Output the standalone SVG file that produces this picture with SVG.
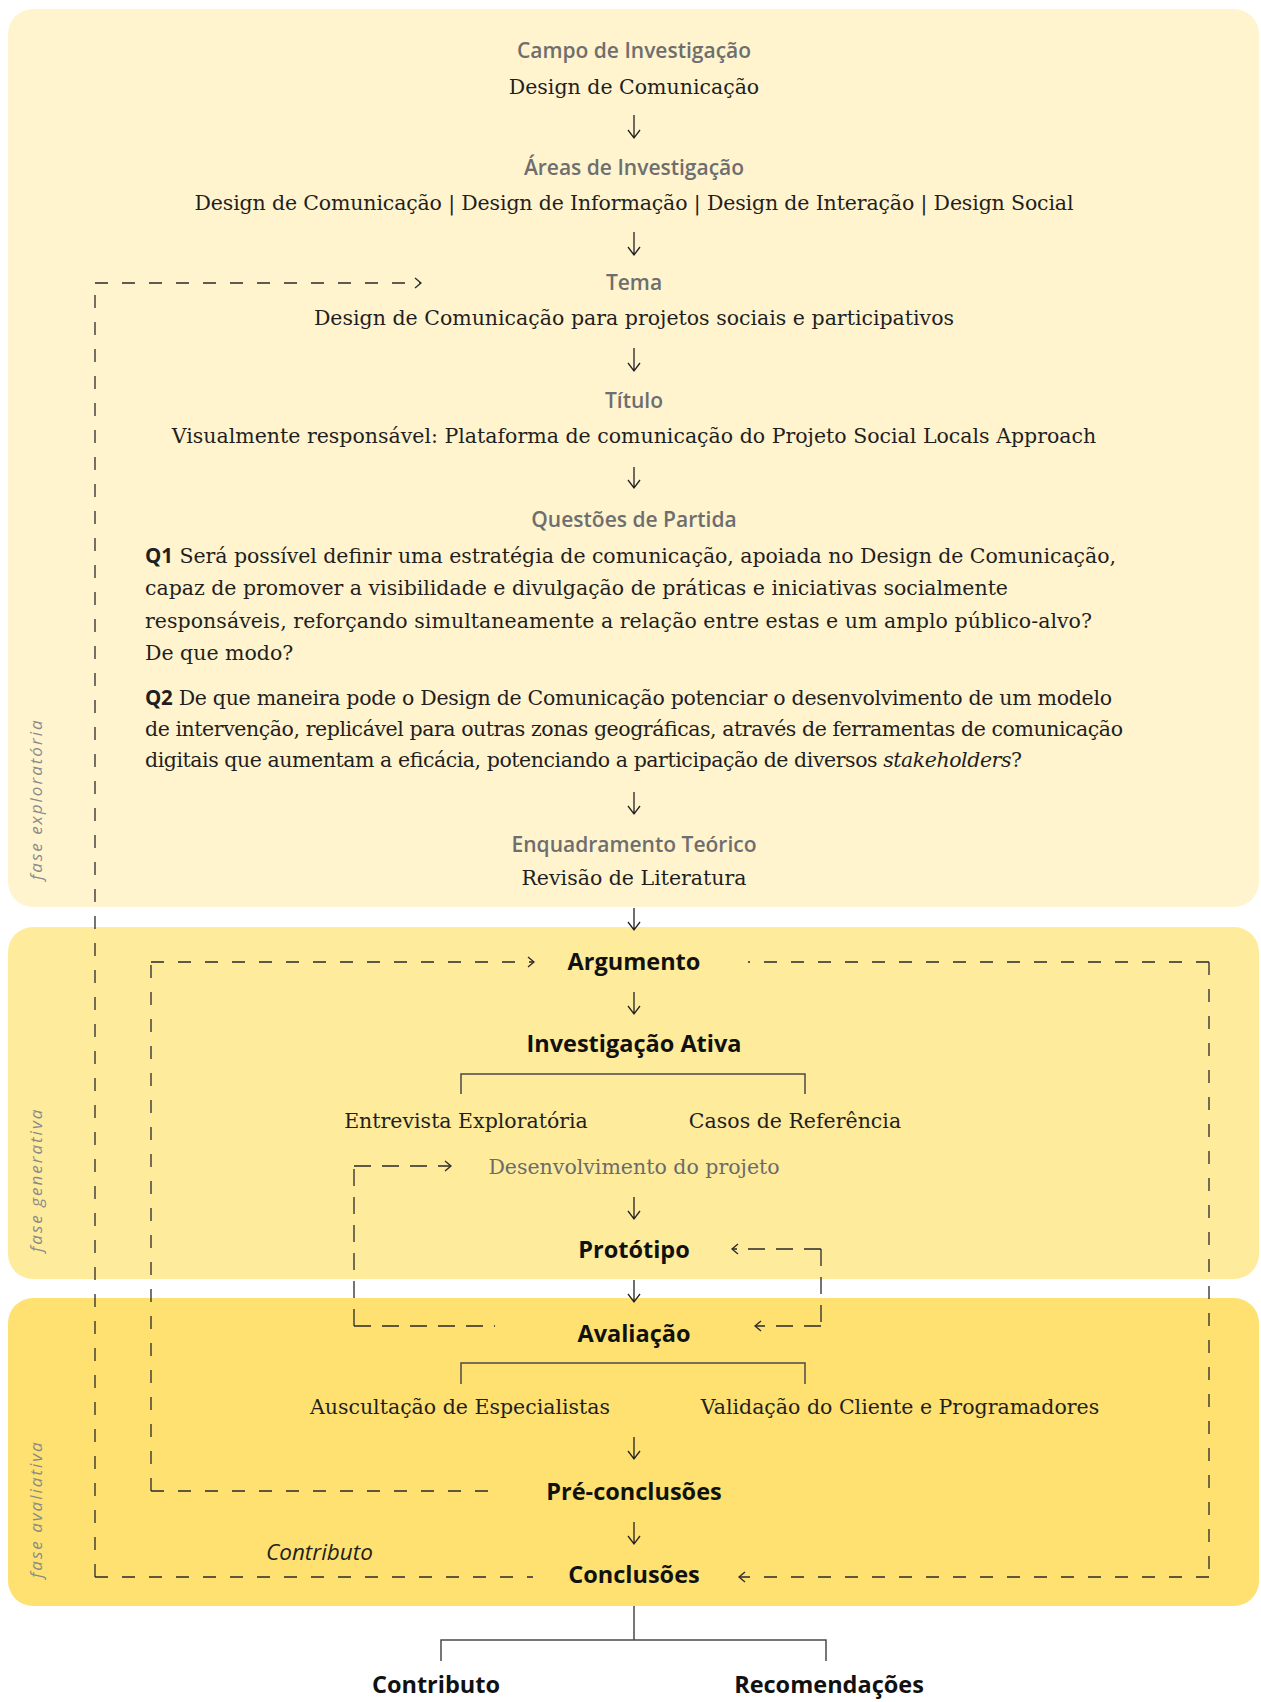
<svg xmlns="http://www.w3.org/2000/svg" width="1261" height="1702" viewBox="0 0 1261 1702">
  <defs>
    <style>
      .serif { font-family: "DejaVu Serif", "Liberation Serif", serif; font-size: 20.5px; fill: #1f1f1f; }
      .label { font-family: "Open Sans", "Noto Sans", sans-serif; font-size: 21px; font-weight: 600; fill: #6e6e6e; text-anchor: middle; }
      .step { font-family: "Open Sans", "Noto Sans", sans-serif; font-size: 23.5px; font-weight: 700; fill: #111; text-anchor: middle; }
      .phase { font-family: "Open Sans", "Noto Sans", sans-serif; font-size: 17px; font-style: italic; font-weight: 400; fill: #8a8a8a; letter-spacing: 2px; }
      .mid { text-anchor: middle; }
      .arrow { fill: none; stroke: #222; stroke-width: 1.3; }
      .dash { fill: none; stroke: #2a2a2a; stroke-width: 1.3; stroke-dasharray: 13 14; }
      .dash2 { fill: none; stroke: #2a2a2a; stroke-width: 1.3; stroke-dasharray: 17 11; }
      .head { fill: none; stroke: #2a2a2a; stroke-width: 1.3; }
      .bracket { fill: none; stroke: #4a4a4a; stroke-width: 1.5; }
      .q { font-family: "Open Sans", "Noto Sans", sans-serif; font-weight: 700; }
    </style>
  </defs>

  <!-- phase panels -->
  <g id="panels">
    <rect id="panel-exploratoria" x="8" y="9" width="1251" height="898" rx="25" fill="#FFF4CE"/>
    <rect id="panel-generativa" x="8" y="927" width="1251" height="352" rx="25" fill="#FEEB9C"/>
    <rect id="panel-avaliativa" x="8" y="1298" width="1251" height="308" rx="25" fill="#FEE170"/>
  </g>

  <!-- phase names, running upward -->
  <g id="phase-labels">
    <text class="phase" transform="translate(42 880) rotate(-90)">fase exploratória</text>
    <text class="phase" transform="translate(42 1252) rotate(-90)">fase generativa</text>
    <text class="phase" transform="translate(42 1578) rotate(-90)">fase avaliativa</text>
  </g>

  <!-- connectors -->
  <g id="connectors">
    <!-- straight downward arrows on the centre axis -->
    <g class="arrow">
      <path d="M634 115V138M628 130L634 138L640 130"/>
      <path d="M634 232V255M628 247L634 255L640 247"/>
      <path d="M634 348V371M628 363L634 371L640 363"/>
      <path d="M634 467V488M628 480L634 488L640 480"/>
      <path d="M634 792V814M628 806L634 814L640 806"/>
      <path d="M634 908V930M628 922L634 930L640 922"/>
      <path d="M634 992V1014M628 1006L634 1014L640 1006"/>
      <path d="M634 1197V1219M628 1211L634 1219L640 1211"/>
      <path d="M634 1280V1302M628 1294L634 1302L640 1294"/>
      <path d="M634 1437V1459M628 1451L634 1459L640 1451"/>
      <path d="M634 1522V1544M628 1536L634 1544L640 1536"/>
    </g>

    <!-- branch brackets -->
    <path class="bracket" d="M461 1094V1074H805V1094"/>
    <path class="bracket" d="M461 1384V1363H805V1384"/>
    <path class="bracket" d="M634 1606V1640M441 1661V1640H826V1661"/>

    <!-- Conclusões back to Tema -->
    <line class="dash" x1="95" y1="1577" x2="533" y2="1577"/>
    <line class="dash" x1="95" y1="1577" x2="95" y2="283"/>
    <line class="dash" x1="95" y1="283" x2="420" y2="283"/>
    <path class="head" d="M415 278L421 283L415 288"/>

    <!-- Pré-conclusões back to Argumento -->
    <line class="dash" x1="151" y1="1491" x2="494" y2="1491"/>
    <line class="dash" x1="151" y1="1491" x2="151" y2="962"/>
    <line class="dash" x1="151" y1="962" x2="533" y2="962"/>
    <path class="head" d="M528 957L534 962L528 967"/>

    <!-- Argumento forward to Conclusões -->
    <line class="dash" x1="1209" y1="962" x2="748" y2="962"/>
    <line class="dash" x1="1209" y1="962" x2="1209" y2="1577"/>
    <line class="dash" x1="1209" y1="1577" x2="740" y2="1577"/>
    <path class="head" d="M745 1572L739 1577L745 1582"/>

    <!-- Avaliação back to Desenvolvimento do projeto -->
    <line class="dash2" x1="354" y1="1326" x2="495" y2="1326"/>
    <line class="dash2" x1="354" y1="1326" x2="354" y2="1166"/>
    <line class="dash2" x1="354" y1="1166" x2="450" y2="1166"/>
    <path class="head" d="M445 1161L451 1166L445 1171"/>

    <!-- Protótipo and Avaliação, both ways -->
    <line class="dash2" x1="821" y1="1249" x2="733" y2="1249"/>
    <line class="dash2" x1="821" y1="1249" x2="821" y2="1326"/>
    <line class="dash2" x1="821" y1="1326" x2="756" y2="1326"/>
    <path class="head" d="M738 1244L732 1249L738 1254"/>
    <path class="head" d="M761 1321L755 1326L761 1331"/>
  </g>

  <!-- exploratory phase -->
  <g id="campo">
    <text class="label" x="634" y="58">Campo de Investigação</text>
    <text class="serif mid" x="634" y="94">Design de Comunicação</text>
  </g>
  <g id="areas">
    <text class="label" x="634" y="175">Áreas de Investigação</text>
    <text class="serif mid" x="634" y="210" textLength="879" lengthAdjust="spacing">Design de Comunicação | Design de Informação | Design de Interação | Design Social</text>
  </g>
  <g id="tema">
    <text class="label" x="634" y="290">Tema</text>
    <text class="serif mid" x="634" y="325">Design de Comunicação para projetos sociais e participativos</text>
  </g>
  <g id="titulo">
    <text class="label" x="634" y="408">Título</text>
    <text class="serif mid" x="634" y="443">Visualmente responsável: Plataforma de comunicação do Projeto Social Locals Approach</text>
  </g>
  <g id="questoes">
    <text class="label" x="634" y="527">Questões de Partida</text>
    <text class="serif" x="145" y="563" textLength="971" lengthAdjust="spacing"><tspan class="q">Q1</tspan> Será possível definir uma estratégia de comunicação, apoiada no Design de Comunicação,</text>
    <text class="serif" x="145" y="595" textLength="863" lengthAdjust="spacing">capaz de promover a visibilidade e divulgação de práticas e iniciativas socialmente</text>
    <text class="serif" x="145" y="628" textLength="947" lengthAdjust="spacing">responsáveis, reforçando simultaneamente a relação entre estas e um amplo público-alvo?</text>
    <text class="serif" x="145" y="660">De que modo?</text>
    <text class="serif" x="145" y="705" textLength="967" lengthAdjust="spacing"><tspan class="q">Q2</tspan> De que maneira pode o Design de Comunicação potenciar o desenvolvimento de um modelo</text>
    <text class="serif" x="145" y="736" textLength="978" lengthAdjust="spacing">de intervenção, replicável para outras zonas geográficas, através de ferramentas de comunicação</text>
    <text class="serif" x="145" y="767" textLength="877" lengthAdjust="spacing">digitais que aumentam a eficácia, potenciando a participação de diversos <tspan font-style="italic">stakeholders</tspan>?</text>
  </g>
  <g id="enquadramento">
    <text class="label" x="634" y="852">Enquadramento Teórico</text>
    <text class="serif mid" x="634" y="885">Revisão de Literatura</text>
  </g>

  <!-- generative phase -->
  <g id="argumento"><text class="step" x="634" y="970">Argumento</text></g>
  <g id="investigacao-ativa"><text class="step" x="634" y="1052">Investigação Ativa</text></g>
  <g id="entrevista"><text class="serif mid" x="466" y="1128">Entrevista Exploratória</text></g>
  <g id="casos"><text class="serif mid" x="795" y="1128">Casos de Referência</text></g>
  <g id="desenvolvimento"><text class="serif mid" x="634" y="1174" style="fill:#6b6b6b">Desenvolvimento do projeto</text></g>
  <g id="prototipo"><text class="step" x="634" y="1258">Protótipo</text></g>

  <!-- evaluative phase -->
  <g id="avaliacao"><text class="step" x="634" y="1342">Avaliação</text></g>
  <g id="auscultacao"><text class="serif mid" x="460" y="1414">Auscultação de Especialistas</text></g>
  <g id="validacao"><text class="serif mid" x="900" y="1414">Validação do Cliente e Programadores</text></g>
  <g id="pre-conclusoes"><text class="step" x="634" y="1500">Pré-conclusões</text></g>
  <g id="contributo-loop"><text x="266" y="1560" font-family="Open Sans, sans-serif" font-size="22.5" font-style="italic" fill="#1f1f1f">Contributo</text></g>
  <g id="conclusoes"><text class="step" x="634" y="1583">Conclusões</text></g>

  <!-- outcomes -->
  <g id="contributo"><text class="step" x="436" y="1693">Contributo</text></g>
  <g id="recomendacoes"><text class="step" x="829" y="1693">Recomendações</text></g>
</svg>
